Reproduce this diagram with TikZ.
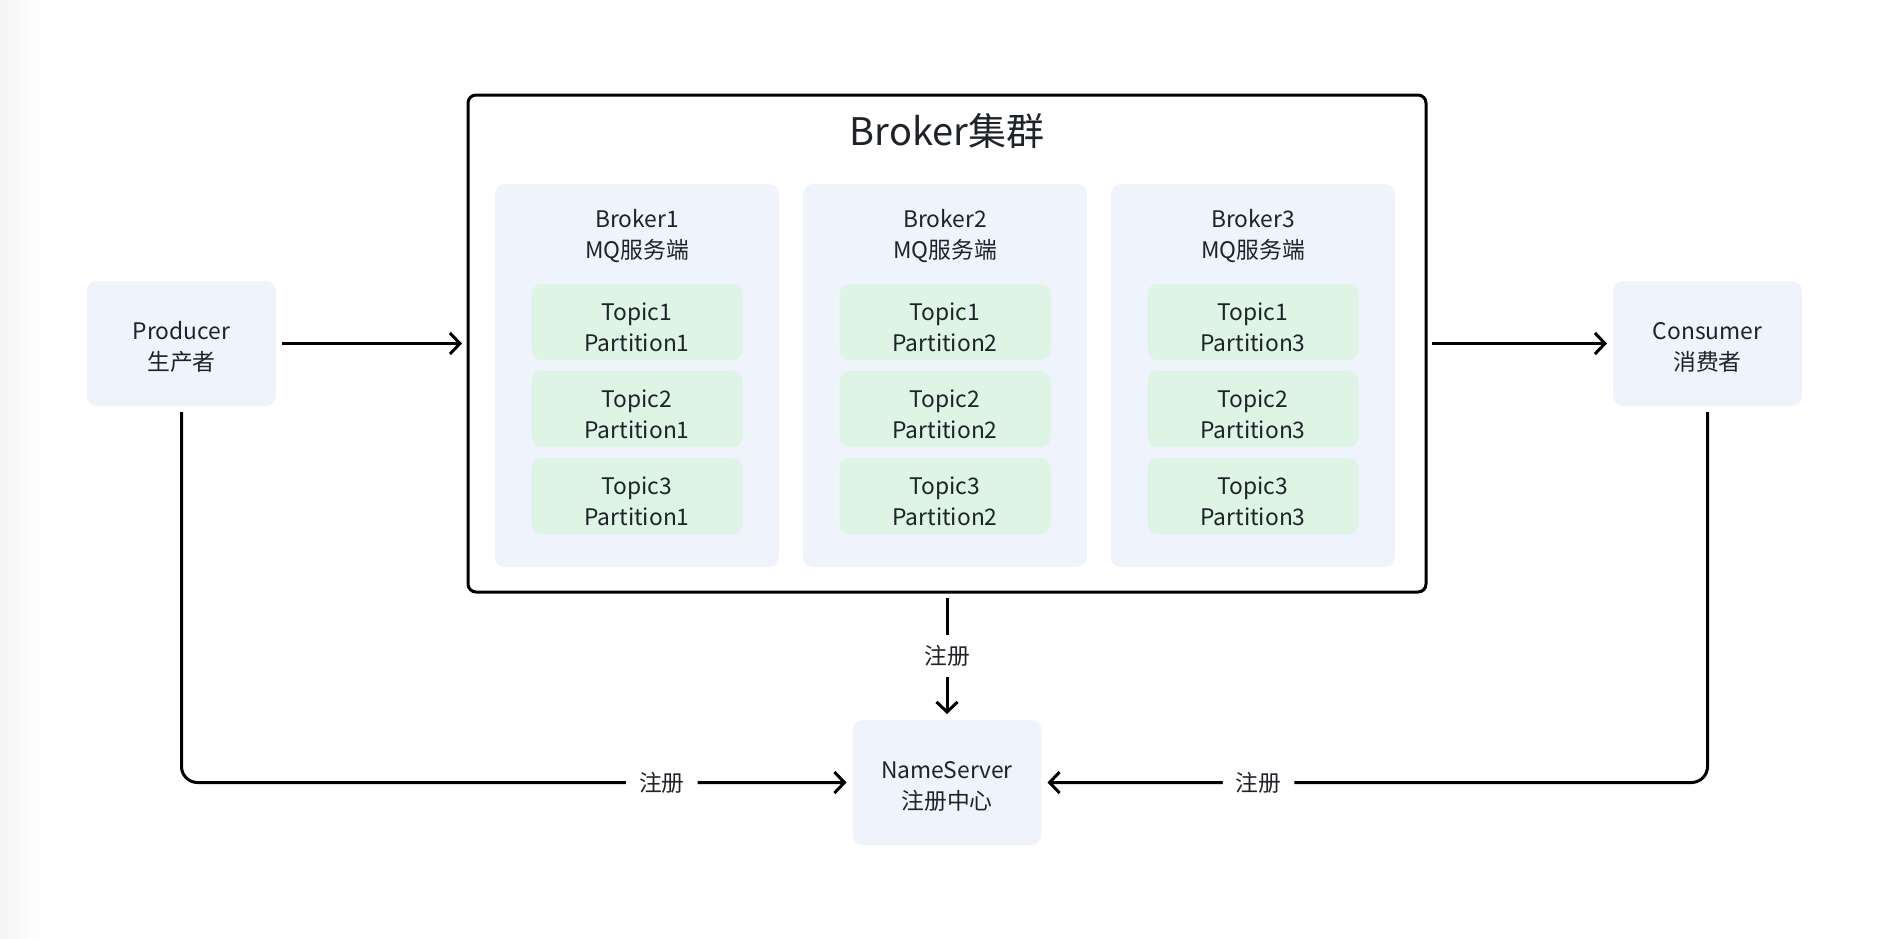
\documentclass[tikz,border=0pt]{standalone}
\usepackage{fontspec}
\setmainfont{Noto Sans CJK SC}
\usepackage{tikz}
\usetikzlibrary{positioning, arrows.meta}
\definecolor{inkgray}{HTML}{1F2329}
\definecolor{boxblue}{HTML}{EEF3FC}
\definecolor{boxgreen}{HTML}{DEF4E4}

\begin{document}
\begin{tikzpicture}[x=0.5pt, y=-0.5pt, node distance=12pt and 12pt, every node/.style={align=center, text=inkgray, outer sep=0pt, font=\fontsize{11.4}{15.5}\selectfont}, box/.style={fill=boxblue, rounded corners=5pt, minimum width=94.5pt, minimum height=62.5pt, text height=27pt, text depth=0pt}, panel/.style={fill=boxblue, rounded corners=5pt, minimum width=142pt, minimum height=191.5pt}, topic/.style={fill=boxgreen, rounded corners=5pt, minimum width=105.5pt, minimum height=38pt, text height=29pt, text depth=0pt}, cluster/.style={draw=black, line width=1.5pt, rounded corners=4pt, minimum width=479pt, minimum height=248.5pt}, tag/.style={fill=white, inner xsep=6.5pt, inner ysep=5pt}, arrow/.style={-{Straight Barb[length=5pt, width=10.5pt]}, line width=1.5pt, shorten <=3pt, shorten >=3pt}]
      \useasboundingbox (0,0) rectangle (1890,938);
      \shade[left color=black!4, right color=white] (0,0) rectangle (45,938);

      \node[cluster] (cluster) at (947,343.5) {}; \node[below=18pt of
      cluster.north, anchor=center, font=\fontsize{19}{24}\selectfont] (title)
      {Broker集群}; \node[panel, below right=44.5pt and 13.5pt of
      cluster.north west] (broker1) {}; \node[panel, right=12pt of broker1]
      (broker2) {}; \node[panel, right=12pt of broker2] (broker3) {};

      \node[below=26pt of broker1.north, anchor=center] (name1)
      {Broker1\\MQ服务端}; \node[topic, below=50pt of broker1.north] (t11)
      {Topic1\\Partition1}; \node[topic, below=5.5pt of t11] (t21)
      {Topic2\\Partition1}; \node[topic, below=5.5pt of t21] (t31)
      {Topic3\\Partition1};

      \node[below=26pt of broker2.north, anchor=center] (name2)
      {Broker2\\MQ服务端}; \node[topic, below=50pt of broker2.north] (t12)
      {Topic1\\Partition2}; \node[topic, below=5.5pt of t12] (t22)
      {Topic2\\Partition2}; \node[topic, below=5.5pt of t22] (t32)
      {Topic3\\Partition2};

      \node[below=26pt of broker3.north, anchor=center] (name3)
      {Broker3\\MQ服务端}; \node[topic, below=50pt of broker3.north] (t13)
      {Topic1\\Partition3}; \node[topic, below=5.5pt of t13] (t23)
      {Topic2\\Partition3}; \node[topic, below=5.5pt of t23] (t33)
      {Topic3\\Partition3};

      \node[box, left=96pt of cluster] (producer) {Producer\\生产者};
      \node[box, right=93.5pt of cluster] (consumer) {Consumer\\消费者};
      \node[box, below=64pt of cluster] (nameserver) {NameServer\\注册中心};

      \draw[arrow] (producer) -- (cluster); \draw[arrow] (cluster) --
      (consumer); \draw[arrow] (cluster) -- node[tag] {注册} (nameserver);
      \draw[arrow, rounded corners=8pt] (producer) |- node[tag, pos=0.858]
      {注册} (nameserver); \draw[arrow, rounded corners=8pt] (consumer) |-
      node[tag, pos=0.837] {注册} (nameserver);
    \end{tikzpicture}
\end{document}
